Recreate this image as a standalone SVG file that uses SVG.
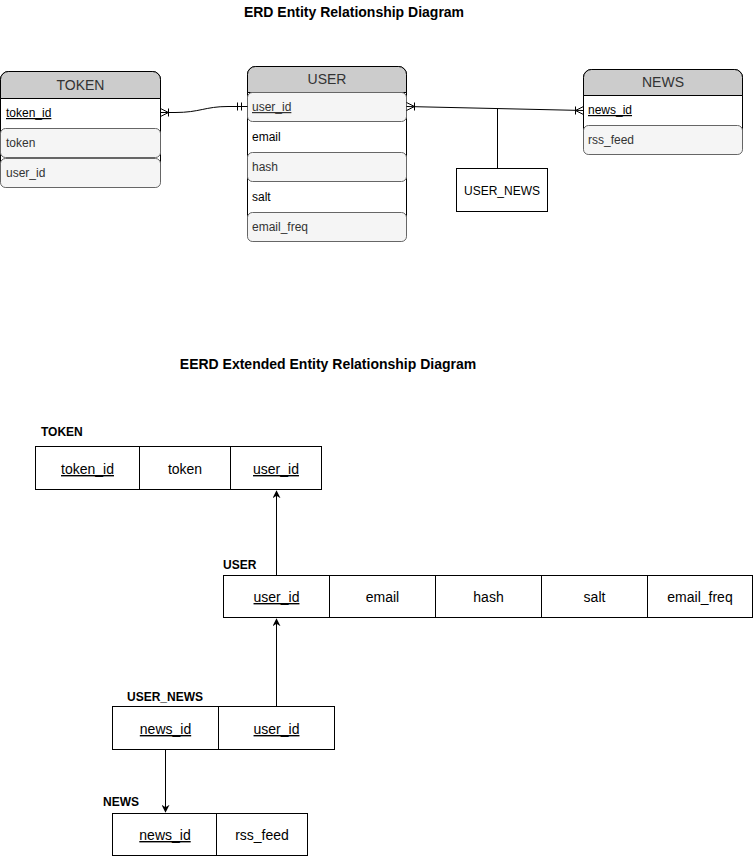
<svg xmlns="http://www.w3.org/2000/svg" width="754" height="856" viewBox="0 0 754 856">
<style>
.title{font-family:"Liberation Sans",Arial,sans-serif;font-size:14px;font-weight:bold;fill:#000;text-anchor:middle}
.hdr{font-family:"Liberation Sans",Arial,sans-serif;font-size:14px;fill:#333;text-anchor:middle}
.row{font-family:"Liberation Sans",Arial,sans-serif;font-size:12px;fill:#000}
.rowg{font-family:"Liberation Sans",Arial,sans-serif;font-size:12px;fill:#333}
.u{text-decoration:underline}
.tbl{fill:#fff;stroke:#000;stroke-width:1}
.head{fill:#ccc;stroke:#000;stroke-width:1}
.grow{fill:#f5f5f5;stroke:#666;stroke-width:1}
.cell{fill:#fff;stroke:#000;stroke-width:1}
.ct{font-family:"Liberation Sans",Arial,sans-serif;font-size:14px;fill:#000;text-anchor:middle}
.lbl{font-family:"Liberation Sans",Arial,sans-serif;font-size:12px;font-weight:bold;fill:#000}
.ln{fill:none;stroke:#000;stroke-width:1}
</style>
<defs>
<marker id="arr" viewBox="0 0 10 10" refX="9" refY="5" markerWidth="8" markerHeight="8" markerUnits="userSpaceOnUse" orient="auto">
<path d="M0,0 L10,5 L0,10 L3,5 Z" fill="#000"/>
</marker>
</defs>
<rect width="754" height="856" fill="#fff"/>
<text class="title" x="354" y="17">ERD Entity Relationship Diagram</text>
<text class="title" x="328" y="369">EERD Extended Entity Relationship Diagram</text>

<g id="erd-token">
<rect class="tbl" x="0.5" y="71.5" width="160" height="116" rx="8"/>
<path class="head" d="M0.5,98.5 V79.5 A8,8 0 0 1 8.5,71.5 H152.5 A8,8 0 0 1 160.5,79.5 V98.5 Z"/>
<text class="hdr" x="80.5" y="90">TOKEN</text>
<text class="row u" x="6" y="117">token_id</text>
<rect class="grow" x="0.5" y="128.5" width="160" height="29" rx="5"/>
<text class="rowg" x="6" y="147">token</text>
<rect class="grow" x="0.5" y="158.5" width="160" height="29" rx="5"/>
<text class="rowg" x="6" y="177">user_id</text>
</g>

<g id="erd-user">
<rect class="tbl" x="247.5" y="66.5" width="159" height="175" rx="8"/>
<path class="head" d="M247.5,92.5 V74.5 A8,8 0 0 1 255.5,66.5 H398.5 A8,8 0 0 1 406.5,74.5 V92.5 Z"/>
<text class="hdr" x="327" y="84">USER</text>
<rect class="grow" x="247.5" y="92.5" width="159" height="29" rx="5"/>
<text class="rowg u" x="252" y="111">user_id</text>
<text class="row" x="252" y="141">email</text>
<rect class="grow" x="247.5" y="152.5" width="159" height="29" rx="5"/>
<text class="rowg" x="252" y="171">hash</text>
<text class="row" x="252" y="201">salt</text>
<rect class="grow" x="247.5" y="212.5" width="159" height="29" rx="5"/>
<text class="rowg" x="252" y="231">email_freq</text>
</g>

<g id="erd-news">
<rect class="tbl" x="583.5" y="69.5" width="159" height="85" rx="8"/>
<path class="head" d="M583.5,95.5 V77.5 A8,8 0 0 1 591.5,69.5 H734.5 A8,8 0 0 1 742.5,77.5 V95.5 Z"/>
<text class="hdr" x="663" y="87">NEWS</text>
<text class="row u" x="588" y="114">news_id</text>
<rect class="grow" x="583.5" y="125.5" width="159" height="29" rx="5"/>
<text class="rowg" x="588" y="144">rss_feed</text>
</g>

<g id="erd-user-news">
<rect class="cell" x="456.5" y="168.5" width="91" height="43"/>
<text class="row" x="502" y="195" text-anchor="middle">USER_NEWS</text>
</g>

<g id="connectors">
<path class="ln" d="M160.5,112.5 H175 C200,112.5 205,106.5 228,106.5 H247.5"/>
<path class="ln" d="M160.5,108.5 L168.5,112.5 L160.5,116.5 M168.5,108.5 V116.5"/>
<path class="ln" d="M237.5,102.5 V110.5 M241.5,102.5 V110.5"/>
<path class="ln" d="M406.5,106.5 L583.5,110.5"/>
<path class="ln" d="M406.5,102.5 L414.5,106.5 L406.5,110.5 M414.5,102.5 V110.5"/>
<path class="ln" d="M583.5,106.5 L575.5,110.5 L583.5,114.5 M575.5,106.5 V114.5"/>
<path class="ln" d="M497.5,108.5 V168.5"/>
<path class="ln" d="M276.5,575 V491" marker-end="url(#arr)"/>
<path class="ln" d="M276.5,706 V619" marker-end="url(#arr)"/>
<path class="ln" d="M165.5,749 V812" marker-end="url(#arr)"/>
</g>

<g id="eerd-token">
<text class="lbl" x="41" y="436">TOKEN</text>
<rect class="cell" x="35.5" y="446.5" width="104" height="43"/>
<rect class="cell" x="139.5" y="446.5" width="91" height="43"/>
<rect class="cell" x="230.5" y="446.5" width="91" height="43"/>
<text class="ct u" x="87.5" y="474">token_id</text>
<text class="ct" x="185" y="474">token</text>
<text class="ct u" x="276" y="474">user_id</text>
</g>

<g id="eerd-user">
<text class="lbl" x="223" y="569">USER</text>
<rect class="cell" x="223.5" y="575.5" width="106" height="42"/>
<rect class="cell" x="329.5" y="575.5" width="106" height="42"/>
<rect class="cell" x="435.5" y="575.5" width="106" height="42"/>
<rect class="cell" x="541.5" y="575.5" width="106" height="42"/>
<rect class="cell" x="647.5" y="575.5" width="105" height="42"/>
<text class="ct u" x="276.5" y="602">user_id</text>
<text class="ct" x="382.5" y="602">email</text>
<text class="ct" x="488.5" y="602">hash</text>
<text class="ct" x="594.5" y="602">salt</text>
<text class="ct" x="700" y="602">email_freq</text>
</g>

<g id="eerd-user-news">
<text class="lbl" x="127" y="701">USER_NEWS</text>
<rect class="cell" x="112.5" y="706.5" width="106" height="43"/>
<rect class="cell" x="218.5" y="706.5" width="116" height="43"/>
<text class="ct u" x="165.5" y="734">news_id</text>
<text class="ct u" x="276.5" y="734">user_id</text>
</g>

<g id="eerd-news">
<text class="lbl" x="103" y="806">NEWS</text>
<rect class="cell" x="112.5" y="813.5" width="104" height="42"/>
<rect class="cell" x="216.5" y="813.5" width="91" height="42"/>
<text class="ct u" x="165" y="840">news_id</text>
<text class="ct" x="262" y="840">rss_feed</text>
</g>
</svg>
